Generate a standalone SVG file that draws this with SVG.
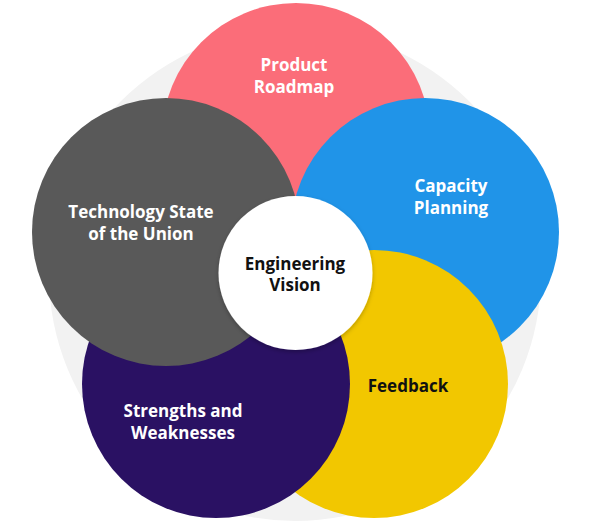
<svg xmlns="http://www.w3.org/2000/svg" width="592" height="526" viewBox="0 0 592 526">
  <style>
    .lbl { font-family: "Open Sans", Lato, "Liberation Sans", sans-serif; font-weight: 700; font-size: 17px; text-anchor: middle; }
    .w { fill: #ffffff; }
    .k { fill: #111111; }
  </style>
  <defs>
    <filter id="sh" x="-20%" y="-20%" width="140%" height="140%">
      <feDropShadow dx="0" dy="2" stdDeviation="2" flood-color="#000000" flood-opacity="0.25"/>
    </filter>
  </defs>
  <g id="background">
    <circle cx="295" cy="275" r="246" fill="#f2f2f2"/>
  </g>
  <g id="connectors"/>
  <g id="product-roadmap">
    <circle cx="296" cy="137" r="134" fill="#fb6d79"/>
    <text class="lbl w" x="294" y="71">Product</text>
    <text class="lbl w" x="294" y="93">Roadmap</text>
  </g>
  <g id="capacity-planning">
    <circle cx="425" cy="232" r="134" fill="#2094e8"/>
    <text class="lbl w" x="451" y="192">Capacity</text>
    <text class="lbl w" x="451" y="214">Planning</text>
  </g>
  <g id="feedback">
    <circle cx="374" cy="384" r="134" fill="#f2c700"/>
    <text class="lbl k" x="408" y="392">Feedback</text>
  </g>
  <g id="strengths-weaknesses">
    <circle cx="216" cy="384" r="134" fill="#2a1163"/>
    <text class="lbl w" x="183" y="417">Strengths and</text>
    <text class="lbl w" x="183" y="439">Weaknesses</text>
  </g>
  <g id="technology-state">
    <circle cx="166" cy="232" r="134" fill="#595959"/>
    <text class="lbl w" x="141" y="218">Technology State</text>
    <text class="lbl w" x="141" y="240">of the Union</text>
  </g>
  <g id="engineering-vision">
    <circle cx="295.5" cy="273" r="77" fill="#ffffff" filter="url(#sh)"/>
    <text class="lbl k" x="295" y="270">Engineering</text>
    <text class="lbl k" x="295" y="291">Vision</text>
  </g>
</svg>
